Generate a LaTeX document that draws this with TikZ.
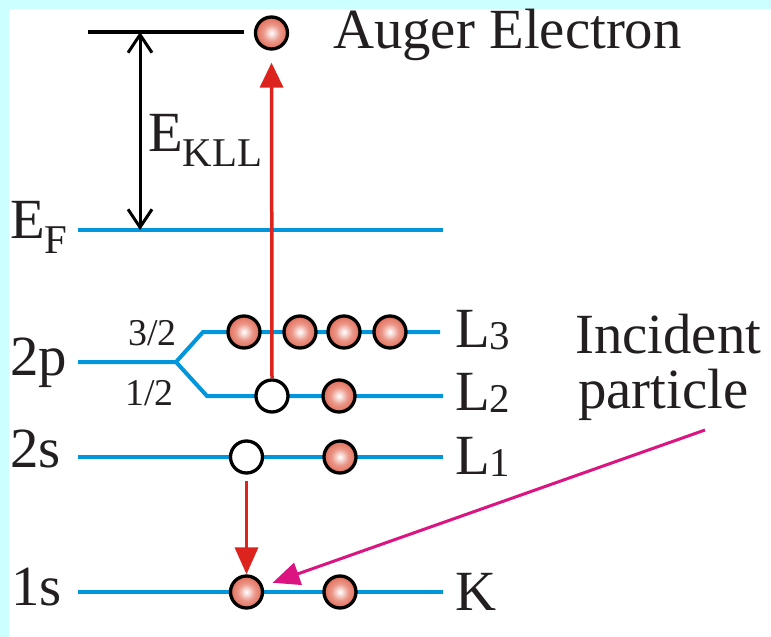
\documentclass[tikz,border=0pt]{standalone}
\usepackage{fontspec}
\setmainfont{Liberation Serif}
\usetikzlibrary{arrows.meta}
\definecolor{bgcyan}{RGB}{204,255,255}
\definecolor{lvlblue}{RGB}{0,150,220}
\definecolor{arrred}{RGB}{220,35,30}
\definecolor{magentaarr}{RGB}{220,20,130}
\definecolor{ballcol}{RGB}{226,108,88}
\definecolor{txtblack}{RGB}{35,31,32}
\pgfdeclareradialshading{ballshade}{\pgfpoint{0bp}{0bp}}{color(0bp)=(white); color(3bp)=(white!85!ballcol); color(13bp)=(ballcol!70!white); color(25bp)=(ballcol); color(50bp)=(ballcol)}
\newcommand{\bigf}{\fontsize{57}{60}\selectfont}
\newcommand{\subf}{\fontsize{41}{44}\selectfont}
\newcommand{\midf}{\fontsize{38}{40}\selectfont}
\begin{document}
\begin{tikzpicture}[x=1bp,y=-1bp,
  level/.style={draw=lvlblue, line width=4bp},
  ball/.style={circle, draw=black, line width=3.3bp, minimum size=32bp, inner sep=0pt, shading=ballshade},
  hole/.style={circle, draw=black, line width=3.3bp, minimum size=32bp, inner sep=0pt, fill=white},
  lbl/.style={anchor=base west, inner sep=0pt, font=\bigf, text=txtblack},
  redarrow/.style={draw=arrred, line width=3.5bp, -{Triangle[length=25bp,width=23bp]}},
]
\fill[bgcyan] (0,0) rectangle (771,637);
\fill[white] (9,9) rectangle (771,637);
\useasboundingbox (0,0) rectangle (771,637);

% levels
\draw[level] (78,230) -- (443,230);
\draw[level] (78,362) -- (176,362) -- (203,332) -- (440,332);
\draw[level] (176,362) -- (207,396) -- (443,396);
\draw[level] (78,457) -- (443,457);
\draw[level] (78,592) -- (443,592);
\draw[black, line width=4bp] (88,32) -- (244,32);

% energy arrow
\coordinate (etop) at (140,32);
\coordinate (ebot) at (140,230);
\draw[line width=3bp, {Straight Barb[length=18bp,width=24bp]}-{Straight Barb[length=18bp,width=24bp]}] (etop) -- (ebot);

% electrons
\node[ball] (auger) at (271.5,33) {};
\node[ball] (l3a) at (244,332) {};
\node[ball] (l3b) at (300,332) {};
\node[ball] (l3c) at (344,332) {};
\node[ball] (l3d) at (390,332) {};
\node[hole] (l2h) at (272,396) {};
\node[ball] (l2b) at (339,396) {};
\node[hole] (l1h) at (246.5,457) {};
\node[ball] (l1b) at (340,457) {};
\node[ball] (ka) at (246.5,592) {};
\node[ball] (kb) at (340,592) {};

% arrows
\draw[redarrow, shorten >=12bp] (l2h.north) -- (auger.south);
\draw[redarrow, -{Triangle[length=27bp,width=23bp]}, shorten <=6bp] (l1h.south) -- (ka.north);
\coordinate (inc) at (705,430);
\draw[draw=magentaarr, line width=3bp, -{Triangle[length=27bp,width=23bp]}, shorten >=10bp] (inc) -- (ka);

% labels
\node[lbl] (auglbl) at (333,49) {Auger Electron};
\node[lbl] (ekll) at (148,152) {E\raisebox{-15bp}{\subf KLL}};
\node[lbl] (ef) at (10,238) {E\raisebox{-15bp}{\subf F}};
\node[lbl] (p2) at (10,375) {2p};
\node[lbl] (s2) at (10,467) {2s};
\node[lbl] (s1) at (11,605) {1s};
\node[lbl, font=\midf] (j32) at (128,345) {3/2};
\node[lbl, font=\midf] (j12) at (125,405) {1/2};
\node[lbl] (L3) at (455,347) {L\raisebox{-2bp}{\subf 3}};
\node[lbl] (L2) at (455,410) {L\raisebox{-2bp}{\subf 2}};
\node[lbl] (L1) at (455,474) {L\raisebox{-2bp}{\subf 1}};
\node[lbl] (Klbl) at (455,610) {K};
\node[lbl] (inc1) at (575,353) {Incident};
\node[lbl] (inc2) at (578,408) {particle};
\end{tikzpicture}
\end{document}
